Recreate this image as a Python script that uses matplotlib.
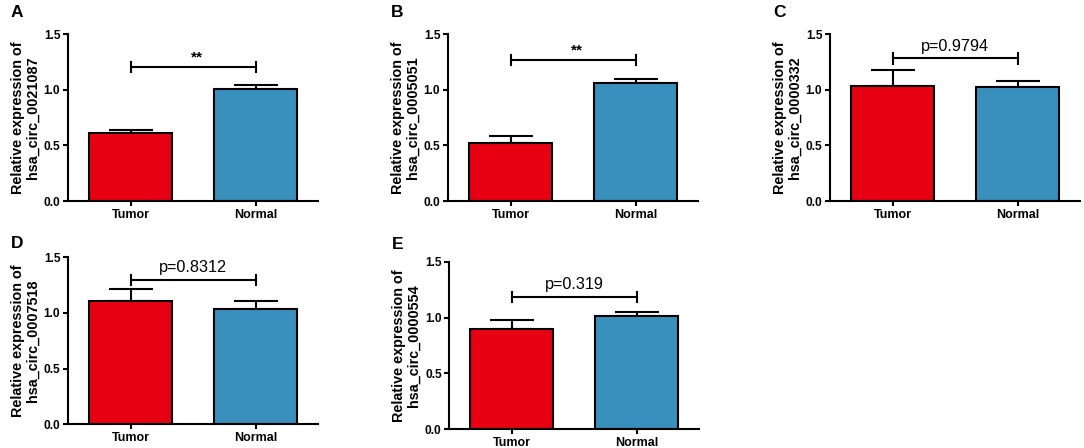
import matplotlib
matplotlib.use("Agg")
import matplotlib.pyplot as plt

plt.rcParams['font.family'] = ['Liberation Sans', 'DejaVu Sans']

categories = ["Tumor", "Normal"]
panel_letters = ["A", "B", "C", "D", "E"]
gene_names = ["hsa_circ_0021087", "hsa_circ_0005051", "hsa_circ_0000332",
              "hsa_circ_0007518", "hsa_circ_0000554"]
means_tumor = [0.615, 0.525, 1.033, 1.111, 0.900]
means_normal = [1.010, 1.060, 1.028, 1.035, 1.016]
err_tumor = [0.025, 0.055, 0.145, 0.100, 0.077]
err_normal = [0.035, 0.040, 0.048, 0.070, 0.032]
sig_labels = ["**", "**", "p=0.9794", "p=0.8312", "p=0.319"]
bracket_y = [1.20, 1.265, 1.28, 1.30, 1.185]

yticks = [0.0, 0.5, 1.0, 1.5]
ytick_labels = ["0.0", "0.5", "1.0", "1.5"]

W, H = 1084, 448
fig = plt.figure(figsize=(W / 100, H / 100), dpi=100)

# axes boxes in pixels: (left, right, top, bottom)
boxes = [(68, 318, 34, 201), (448, 698, 34, 201), (830, 1080, 34, 201),
         (68, 318, 257.3, 424.3), (449.3, 699.3, 261.7, 429.3)]
letter_base = [17, 17, 17, 248, 249]

red = "#E60012"
blue = "#3A90BD"
lw = 1.5

for i in range(5):
    l, r, t, b = boxes[i]
    ax = fig.add_axes([l / W, 1 - b / H, (r - l) / W, (b - t) / H])
    x = [0, 1]
    vals = [means_tumor[i], means_normal[i]]
    errs = [err_tumor[i], err_normal[i]]
    ax.bar(x, vals, width=0.664, color=[red, blue], edgecolor="black",
           linewidth=lw, zorder=2)
    ax.errorbar(x, vals, yerr=[[0, 0], errs], fmt="none", ecolor="black",
                elinewidth=lw, capsize=15.5, capthick=lw, zorder=1)
    # bracket
    yb = bracket_y[i]
    ax.plot([0, 1], [yb, yb], color="black", lw=lw, clip_on=False)
    for xx in x:
        ax.plot([xx, xx], [yb - 0.045, yb + 0.045], color="black", lw=lw,
                clip_on=False)
    if sig_labels[i] == "**":
        ax.text(0.53, yb + 0.05, sig_labels[i], ha="center", va="baseline",
                fontsize=11, fontweight="bold")
    else:
        ax.text(0.5, yb + 0.07, sig_labels[i], ha="center", va="baseline",
                fontsize=11.7)
    ax.set_xlim(-0.5, 1.5)
    ax.set_ylim(0, 1.5)
    ax.set_yticks(yticks)
    ax.set_yticklabels(ytick_labels, fontsize=8.6, fontweight="bold")
    ax.set_xticks(x)
    ax.set_xticklabels(categories, fontsize=9, fontweight="bold")
    ax.tick_params(axis="both", direction="out", length=3.5, width=lw, pad=2)
    for s in ["top", "right"]:
        ax.spines[s].set_visible(False)
    for s in ["left", "bottom"]:
        ax.spines[s].set_linewidth(lw)
    ax.set_ylabel("Relative expression of\n" + gene_names[i], fontsize=10.4,
                  fontweight="bold", labelpad=3, linespacing=1.05)
    fig.text((l - 57) / W, 1 - letter_base[i] / H, panel_letters[i],
             fontsize=12.5, fontweight="bold", ha="left", va="baseline")

fig.savefig("out.png", dpi=100)
